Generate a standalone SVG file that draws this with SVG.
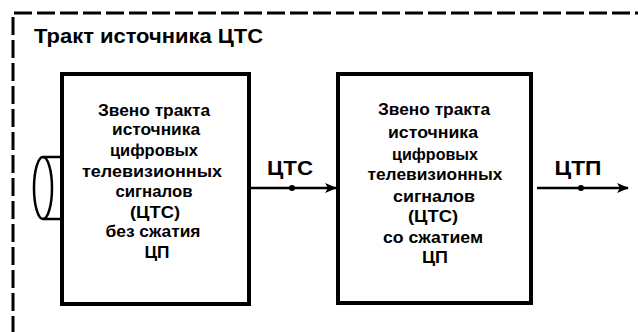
<svg xmlns="http://www.w3.org/2000/svg" width="638" height="332" viewBox="0 0 638 332">
<defs>
<style>
.t{font-family:"Liberation Sans",Arial,sans-serif;font-weight:bold;fill:#000}
.bt{font-size:16px;text-anchor:middle}
.box{fill:none;stroke:#000;stroke-width:4}
.ln{fill:none;stroke:#000;stroke-width:2.5}
</style>
<marker id="ar" viewBox="0 0 12 10" refX="11" refY="5" markerWidth="12" markerHeight="10" markerUnits="userSpaceOnUse" orient="auto">
<path d="M0,0 L12,5 L0,10 L3,5 Z" fill="#000"/>
</marker>
</defs>
<rect width="638" height="332" fill="#fff"/>
<g id="frame">
<path d="M13,334 V13 H638" fill="none" stroke="#000" stroke-width="3" stroke-dasharray="18,5"/>
<text class="t" x="34" y="43" font-size="20" textLength="229" lengthAdjust="spacingAndGlyphs">Тракт источника ЦТС</text>
</g>
<g id="cable">
<ellipse cx="43" cy="188" rx="9" ry="31" class="ln"/>
<path d="M43,157 H62 M43,219 H62" class="ln"/>
</g>
<g id="node1">
<rect x="62" y="74" width="187" height="230" class="box"/>
<text class="t bt" x="154" y="116" textLength="112" lengthAdjust="spacingAndGlyphs">Звено тракта</text>
<text class="t bt" x="156" y="135" textLength="88" lengthAdjust="spacingAndGlyphs">источника</text>
<text class="t bt" x="154" y="156" textLength="88" lengthAdjust="spacingAndGlyphs">цифровых</text>
<text class="t bt" x="152" y="177" textLength="140" lengthAdjust="spacingAndGlyphs">телевизионных</text>
<text class="t bt" x="154" y="197" textLength="77" lengthAdjust="spacingAndGlyphs">сигналов</text>
<text class="t bt" x="155" y="218" textLength="50" lengthAdjust="spacingAndGlyphs">(ЦТС)</text>
<text class="t bt" x="153" y="237" textLength="95" lengthAdjust="spacingAndGlyphs">без сжатия</text>
<text class="t bt" x="157" y="258" textLength="25" lengthAdjust="spacingAndGlyphs">ЦП</text>
</g>
<g id="node2">
<rect x="338" y="74" width="193" height="229" class="box"/>
<text class="t bt" x="434" y="115" textLength="112" lengthAdjust="spacingAndGlyphs">Звено тракта</text>
<text class="t bt" x="433" y="138" textLength="90" lengthAdjust="spacingAndGlyphs">источника</text>
<text class="t bt" x="435" y="160" textLength="86" lengthAdjust="spacingAndGlyphs">цифровых</text>
<text class="t bt" x="435" y="180" textLength="135" lengthAdjust="spacingAndGlyphs">телевизионных</text>
<text class="t bt" x="434" y="202" textLength="82" lengthAdjust="spacingAndGlyphs">сигналов</text>
<text class="t bt" x="433" y="222" textLength="50" lengthAdjust="spacingAndGlyphs">(ЦТС)</text>
<text class="t bt" x="433" y="243" textLength="100" lengthAdjust="spacingAndGlyphs">со сжатием</text>
<text class="t bt" x="435" y="263" textLength="26" lengthAdjust="spacingAndGlyphs">ЦП</text>
</g>
<g id="connectors">
<path d="M249,188 H336" class="ln" marker-end="url(#ar)"/>
<circle cx="292" cy="188" r="3" fill="#000"/>
<text class="t" x="290" y="175" font-size="21" text-anchor="middle" textLength="46" lengthAdjust="spacingAndGlyphs">ЦТС</text>
<path d="M537,188 H628" class="ln" marker-end="url(#ar)"/>
<circle cx="581" cy="188" r="3" fill="#000"/>
<text class="t" x="578" y="175" font-size="21" text-anchor="middle" textLength="47" lengthAdjust="spacingAndGlyphs">ЦТП</text>
</g>
</svg>
